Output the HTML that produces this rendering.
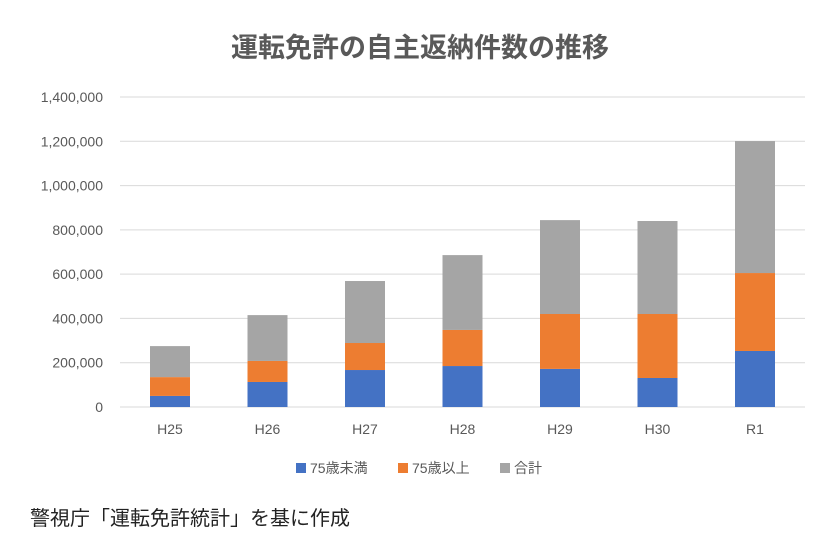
<!DOCTYPE html>
<html><head><meta charset="utf-8"><style>
body{margin:0;background:#fff;}
svg text{font-family:"Liberation Sans","Noto Sans CJK JP",sans-serif;}
</style></head><body>
<svg width="840" height="548" xmlns="http://www.w3.org/2000/svg">
<rect width="840" height="548" fill="#fff"/>
<text x="420" y="57" text-anchor="middle" font-size="27" font-weight="bold" fill="#595959">運転免許の自主返納件数の推移</text>
<g id="grid"></g><g id="bars"></g><g id="xl"></g>
<g>
<rect x="296" y="463" width="10" height="10" fill="#4472c4"/><text x="310" y="473" font-size="14" fill="#595959">75歳未満</text>
<rect x="398" y="463" width="10" height="10" fill="#ed7d31"/><text x="412" y="473" font-size="14" fill="#595959">75歳以上</text>
<rect x="500" y="463" width="10" height="10" fill="#a5a5a5"/><text x="514" y="473" font-size="14" fill="#595959">合計</text>
</g>
<text x="30" y="525" font-size="20" fill="#222">警視庁「運転免許統計」を基に作成</text>
</svg>
<script>
const categories=["H25","H26","H27","H28","H29","H30","R1"];
const under75=[50000,113000,167000,185000,172000,131000,253000];
const over75=[85000,95000,122000,163000,248000,289000,352000];
const total=[140000,207000,280000,338000,424000,420000,596000];
const ticks=[0,200000,400000,600000,800000,1000000,1200000,1400000];
const NS="http://www.w3.org/2000/svg";
const y=v=>407-v/1400000*310;
const x=i=>170+i*97.5;
function mk(t,a,p){const e=document.createElementNS(NS,t);for(const k in a)e.setAttribute(k,a[k]);p.appendChild(e);return e;}
const g=document.getElementById('grid');
ticks.forEach(t=>{
 const l=mk('line',{x1:120,x2:805,y1:y(t),y2:y(t),stroke:'#d9d9d9','stroke-width':1},g);
 
 
 const tx=mk('text',{x:103,y:y(t)+5,'text-anchor':'end','font-size':14,fill:'#595959'},g);
 tx.textContent=t.toLocaleString('en-US');
 
 
});
const b=document.getElementById('bars'),xl=document.getElementById('xl');
categories.forEach((c,i)=>{
 let base=0;
 [[under75,'#4472c4','under75'],[over75,'#ed7d31','over75'],[total,'#a5a5a5','total']].forEach(([arr,col,n])=>{
  const v=arr[i];
  const r=mk('rect',{x:x(i)-20,y:y(base+v),width:40,height:y(base)-y(base+v),fill:col},b);
  
  
  base+=v;
 });
 const t=mk('text',{x:x(i),y:434,'text-anchor':'middle','font-size':14,fill:'#595959'},xl);
 t.textContent=c;
 
 
});
</script>
</body></html>
